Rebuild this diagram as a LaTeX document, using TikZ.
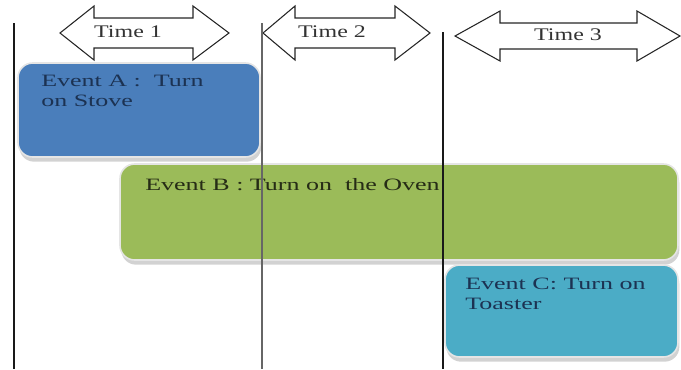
\documentclass[tikz,border=0pt]{standalone}
\usepackage{fontspec}
\setmainfont{Liberation Serif}
\newfontfamily\evfont[FakeStretch=1.5]{Liberation Serif}
\newfontfamily\timefont[FakeStretch=1.35]{Liberation Serif}
\usetikzlibrary{shadows}
\definecolor{evA}{RGB}{74,126,187}
\definecolor{evB}{RGB}{155,187,89}
\definecolor{evC}{RGB}{75,172,198}
\definecolor{evtxt}{RGB}{28,50,82}
\definecolor{evtxtB}{RGB}{38,44,22}

\begin{document}
\begin{tikzpicture}[x=0.75pt,y=-0.75pt,
  evbox/.style={rounded corners=11pt, draw=white!90!black, line width=1.2pt,
    drop shadow={shadow xshift=1pt, shadow yshift=-3.5pt, fill=black!35}},
  evlabel/.style={font=\evfont\fontsize{13}{14.4}\selectfont, align=left, inner sep=0pt, anchor=base west},
  timelabel/.style={font=\timefont\fontsize{13.3}{15}\selectfont, text=black!80, inner sep=0pt},
  timearrow/.style={draw=black!85, fill=white, line width=0.8pt, line join=miter}]
 \useasboundingbox (0,0) rectangle (681,369);
 % time spans
 \foreach \l/\a/\b/\r/\c/\hh/\sh/\tx/\nm/\txt in {60/94/193/229/33/27/15/128/timeA/Time 1,
     263/295/395/430/33/27/15/332/timeB/Time 2,
     455/500/637/680/36/25/13/568/timeC/Time 3}{
   \draw[timearrow] (\l,\c) -- (\a,{\c-\hh}) -- (\a,{\c-\sh}) -- (\b,{\c-\sh}) -- (\b,{\c-\hh})
     -- (\r,\c) -- (\b,{\c+\hh}) -- (\b,{\c+\sh}) -- (\a,{\c+\sh}) -- (\a,{\c+\hh}) -- cycle;
   \node[timelabel] (\nm) at (\tx,{\c-1}) {\txt};
 }
 % events
 \path[evbox, fill=evA] (18,63) rectangle (260,157);
 \path[evbox, fill=evB] (120,164) rectangle (678,260);
 \path[evbox, fill=evC] (445,265) rectangle (678,357);
 \node[evlabel, text=evtxt] (evtA) at (41,106) {Event A :\ \ Turn\\on Stove};
 \node[evlabel, text=evtxtB] (evtB) at (145,190) {Event B : Turn on\ \ the Oven};
 \node[evlabel, text=evtxt] (evtC) at (465,309) {Event C: Turn on\\Toaster};
 % time borders
 \draw[line width=1.5pt, black!90] (14,23) -- (14,369);
 \draw[line width=2pt, black!60] (262,23) -- (262,369);
 \draw[line width=1.5pt, black!90] (443,32) -- (443,369);
\end{tikzpicture}
\end{document}
